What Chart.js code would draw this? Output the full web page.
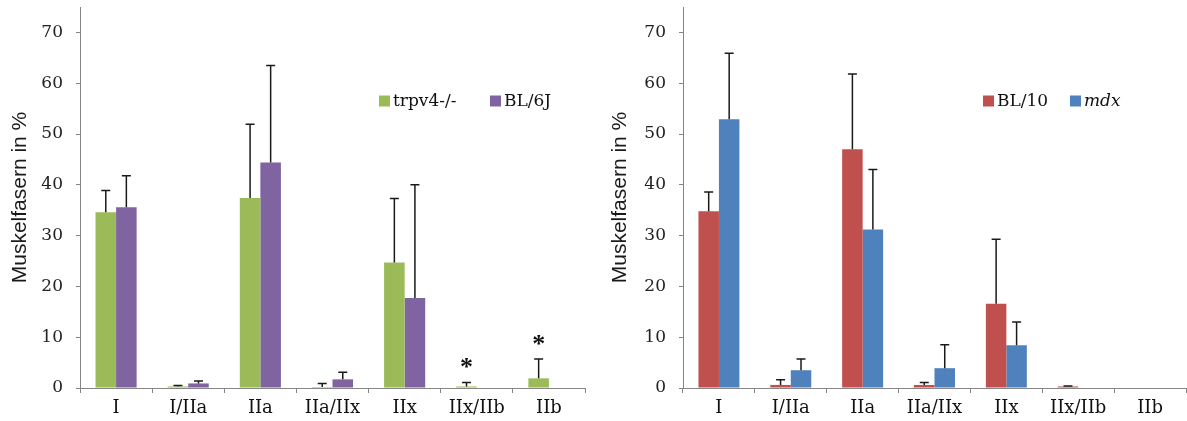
<!DOCTYPE html>
<html lang="de">
<head>
<meta charset="UTF-8">
<title>Muskelfasertypen</title>
<script src="https://cdn.jsdelivr.net/npm/chart.js"></script>
<style>
  html, body { margin: 0; padding: 0; background: #fff; }
  #wrap { position: relative; width: 1187px; height: 421px; overflow: hidden; }
  #left { position: absolute; left: 0; top: 0; }
  #right { position: absolute; left: 600px; top: 0; }
</style>
</head>
<body>
<div id="wrap">
  <canvas id="left" width="595" height="421"></canvas>
  <canvas id="right" width="587" height="421"></canvas>
</div>

<script>
// fiber types (x axis) and y ticks
const categories = ['I', 'I/IIa', 'IIa', 'IIa/IIx', 'IIx', 'IIx/IIb', 'IIb'];
const yTicks = [0, 10, 20, 30, 40, 50, 60, 70];

// left chart: trpv4-/- vs BL/6J (mean, upper SD)
const trpv4 = [34.6, 0.3, 37.4, 0.2, 24.7, 0.3, 1.9];
const trpv4Err = [4.3, 0.2, 14.5, 0.7, 12.6, 0.8, 3.8];
const trpv4Sig = ['', '', '', '', '', '*', '*'];
const bl6 = [35.6, 0.9, 44.4, 1.7, 17.7, 0, 0];
const bl6Err = [6.2, 0.5, 19.1, 1.4, 22.3, 0, 0];

// right chart: BL/10 vs mdx
const bl10 = [34.8, 0.6, 47.0, 0.6, 16.6, 0.3, 0];
const bl10Err = [3.8, 1.0, 14.8, 0.5, 12.7, 0.1, 0];
const mdx = [52.9, 3.5, 31.2, 3.9, 8.4, 0, 0];
const mdxErr = [13.0, 2.2, 11.8, 4.6, 4.6, 0, 0];

const AXIS = '#868686';
const SERIF = 'DejaVu Serif';
const TEXT = '#111';

// upper error bars + significance stars
const errorBars = {
    id: 'errorBars',
    afterDatasetsDraw(chart) {
        const ctx = chart.ctx, y = chart.scales.y;
        chart.data.datasets.forEach((ds, i) => {
            chart.getDatasetMeta(i).data.forEach((bar, j) => {
                const err = ds.errors[j];
                if (!err) return;
                const top = y.getPixelForValue(ds.data[j] + err);
                ctx.save();
                ctx.strokeStyle = '#1a1a1a';
                ctx.lineWidth = 1.5;
                ctx.beginPath();
                ctx.moveTo(bar.x, bar.y);
                ctx.lineTo(bar.x, top);
                ctx.moveTo(bar.x - 4.5, top);
                ctx.lineTo(bar.x + 4.5, top);
                ctx.stroke();
                if (ds.marks && ds.marks[j]) {
                    ctx.fillStyle = '#111';
                    ctx.font = 'bold 26px "Liberation Serif"';
                    ctx.textAlign = 'center';
                    ctx.textBaseline = 'middle';
                    ctx.fillText(ds.marks[j], bar.x, top - 14);
                }
                ctx.restore();
            });
        });
    }
};

// legend drawn inside the plot like the excel one
const boxLegend = {
    id: 'boxLegend',
    afterDraw(chart, args, opts) {
        const ctx = chart.ctx;
        ctx.save();
        chart.data.datasets.forEach((ds, i) => {
            const x = opts.x[i];
            ctx.fillStyle = ds.backgroundColor;
            ctx.fillRect(x, opts.y - 5.5, 11, 11);
            ctx.fillStyle = TEXT;
            ctx.font = (ds.italic ? 'italic ' : '') + '17px "' + SERIF + '"';
            ctx.textBaseline = 'middle';
            ctx.textAlign = 'left';
            ctx.fillText(ds.label, x + 14, opts.y + 1);
        });
        ctx.restore();
    }
};

function makeChart(id, datasets, yWidth, padRight, legendX) {
    return new Chart(document.getElementById(id), {
        type: 'bar',
        data: { labels: categories, datasets: datasets },
        options: {
            responsive: false,
            animation: false,
            devicePixelRatio: 1,
            layout: { padding: { top: 7, right: padRight, left: 0, bottom: 0 } },
            datasets: { bar: { barPercentage: 1, categoryPercentage: 0.57 } },
            plugins: {
                legend: { display: false },
                tooltip: { enabled: false },
                boxLegend: { x: legendX, y: 101 }
            },
            scales: {
                x: {
                    grid: { offset: true, drawOnChartArea: false, drawTicks: true, tickLength: 5, color: AXIS },
                    border: { color: AXIS },
                    ticks: { font: { family: SERIF, size: 18 }, color: TEXT, padding: 5, maxRotation: 0, autoSkip: false },
                    afterFit(s) { s.height = 33; s.paddingLeft = 0; s.paddingRight = 0; }
                },
                y: {
                    min: 0,
                    max: 75,
                    afterBuildTicks(s) { s.ticks = yTicks.map(v => ({ value: v })); },
                    grid: { drawOnChartArea: false, drawTicks: true, tickLength: 4, color: AXIS },
                    border: { color: AXIS },
                    ticks: { font: { family: SERIF, size: 17 }, color: '#222', padding: 13 },
                    title: {
                        display: true,
                        text: 'Muskelfasern in %',
                        font: { family: 'Liberation Sans', size: 21 },
                        color: '#1a1a1a',
                        padding: { top: 8, bottom: 0 }
                    },
                    afterFit(s) { s.width = yWidth; s.paddingTop = 0; s.paddingBottom = 0; }
                }
            }
        },
        plugins: [errorBars, boxLegend]
    });
}

makeChart('left', [
    { label: 'trpv4-/-', data: trpv4, errors: trpv4Err, marks: trpv4Sig, backgroundColor: '#9BBB59' },
    { label: 'BL/6J', data: bl6, errors: bl6Err, backgroundColor: '#8064A2' }
], 80, 10, [379, 490]);

makeChart('right', [
    { label: 'BL/10', data: bl10, errors: bl10Err, backgroundColor: '#C0504D' },
    { label: 'mdx', data: mdx, errors: mdxErr, backgroundColor: '#4F81BD', italic: true }
], 83, 1, [383, 470]);
</script>
</body>
</html>
